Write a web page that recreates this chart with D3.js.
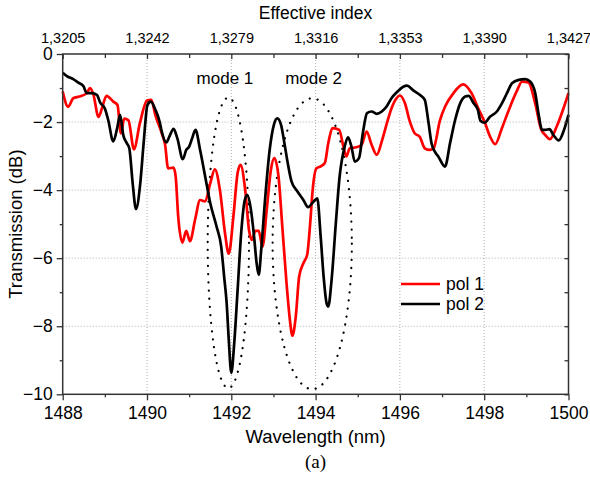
<!DOCTYPE html>
<html lang="en">
<head>
    <meta charset="UTF-8">
    <title>Transmission</title>
    <script src="https://cdn.jsdelivr.net/npm/d3@7.8.5/dist/d3.min.js"></script>
    <style>
        body { margin: 0; background: #fff; }
        text { font-family: Arial, "Liberation Sans", sans-serif; fill: #000; }
    </style>
</head>
<body>
<div id="chart"></div>
<script type="text/javascript">
    // pol 1 (red)
    const pol1Wl = [1488.0, 1488.13, 1488.25, 1488.4, 1488.57, 1488.65, 1488.73, 1488.85, 1488.93, 1489.04,
        1489.2, 1489.3, 1489.38, 1489.46, 1489.56, 1489.69, 1489.83, 1490.0, 1490.1, 1490.2,
        1490.35, 1490.43, 1490.5, 1490.63, 1490.68, 1490.74, 1490.84, 1490.93, 1491.02, 1491.14,
        1491.26, 1491.38, 1491.5, 1491.61, 1491.73, 1491.85, 1491.94, 1492.05, 1492.15, 1492.22,
        1492.33, 1492.42, 1492.49, 1492.57, 1492.65, 1492.74, 1492.84, 1492.94, 1493.02, 1493.12,
        1493.21, 1493.31, 1493.39, 1493.45, 1493.53, 1493.61, 1493.71, 1493.8, 1493.87, 1493.93,
        1494.02, 1494.14, 1494.22, 1494.3, 1494.41, 1494.56, 1494.65, 1494.73, 1494.81, 1494.97,
        1495.09, 1495.21, 1495.33, 1495.45, 1495.57, 1495.68, 1495.8, 1495.92, 1496.0, 1496.12,
        1496.23, 1496.35, 1496.47, 1496.59, 1496.71, 1496.8, 1496.95, 1497.07, 1497.27, 1497.5,
        1497.7, 1497.86, 1498.02, 1498.14, 1498.26, 1498.42, 1498.57, 1498.77, 1498.9, 1499.05,
        1499.21, 1499.35, 1499.45, 1499.56, 1499.72, 1499.88, 1500.0];
    const pol1Db = [-1.1, -1.55, -1.3, -1.25, -1.15, -1.0, -1.2, -1.85, -1.6, -1.23,
        -1.4, -1.5, -2.33, -1.9, -1.95, -2.8, -2.04, -1.37, -1.35, -1.8,
        -2.33, -2.67, -3.36, -3.34, -3.6, -4.77, -5.54, -5.2, -5.5, -4.87,
        -4.29, -4.33, -3.8, -3.39, -4.0, -5.26, -5.87, -4.77, -3.5, -3.26,
        -4.0, -5.17, -5.46, -5.2, -5.2, -5.66, -4.58, -3.4, -3.06, -3.6,
        -5.07, -6.73, -7.81, -8.28, -7.71, -6.54, -6.15, -5.9, -5.0, -4.0,
        -3.36, -3.29, -3.2, -2.62, -2.18, -2.23, -2.67, -3.01, -2.77, -2.74,
        -2.67, -2.28, -2.67, -2.96, -2.57, -2.08, -1.6, -1.3, -1.22, -1.45,
        -1.96, -2.33, -2.43, -2.77, -2.82, -2.77, -1.95, -1.55, -1.15, -0.89,
        -1.15, -1.6, -2.03, -2.43, -2.65, -2.18, -1.69, -1.1, -0.81, -0.84,
        -1.45, -2.21, -2.38, -2.5, -2.13, -1.6, -1.15];

    // pol 2 (black)
    const pol2Wl = [1488.0, 1488.1, 1488.25, 1488.37, 1488.49, 1488.57, 1488.69, 1488.81, 1488.89, 1489.0,
        1489.08, 1489.2, 1489.3, 1489.36, 1489.44, 1489.52, 1489.58, 1489.66, 1489.74, 1489.84,
        1489.92, 1490.01, 1490.09, 1490.2, 1490.3, 1490.35, 1490.46, 1490.53, 1490.63, 1490.72,
        1490.85, 1490.93, 1491.0, 1491.07, 1491.15, 1491.26, 1491.38, 1491.5, 1491.65, 1491.76,
        1491.83, 1491.89, 1491.94, 1492.0, 1492.07, 1492.15, 1492.24, 1492.32, 1492.38, 1492.46,
        1492.54, 1492.6, 1492.65, 1492.71, 1492.8, 1492.91, 1493.01, 1493.09, 1493.18, 1493.26,
        1493.34, 1493.43, 1493.57, 1493.71, 1493.82, 1493.95, 1494.04, 1494.12, 1494.19, 1494.26,
        1494.3, 1494.38, 1494.48, 1494.57, 1494.69, 1494.77, 1494.85, 1494.93, 1495.03, 1495.12,
        1495.22, 1495.33, 1495.45, 1495.57, 1495.68, 1495.8, 1495.94, 1496.08, 1496.17, 1496.31,
        1496.47, 1496.59, 1496.67, 1496.75, 1496.83, 1496.91, 1497.07, 1497.19, 1497.31, 1497.43,
        1497.55, 1497.63, 1497.75, 1497.85, 1497.91, 1498.01, 1498.14, 1498.3, 1498.42, 1498.54,
        1498.66, 1498.82, 1498.97, 1499.09, 1499.21, 1499.3, 1499.37, 1499.45, 1499.55, 1499.64,
        1499.77, 1499.88, 1500.0];
    const pol2Db = [-0.55, -0.65, -0.74, -0.84, -0.94, -1.15, -1.15, -1.2, -1.43, -1.6,
        -1.94, -2.57, -2.13, -1.79, -2.4, -2.62, -2.77, -3.8, -4.56, -3.8,
        -2.62, -1.5, -1.4, -1.64, -1.99, -2.28, -2.6, -2.43, -2.2, -2.48,
        -3.09, -2.82, -2.72, -2.48, -2.23, -2.82, -3.6, -4.38, -5.07, -5.66,
        -6.54, -7.32, -8.4, -9.37, -8.49, -6.93, -5.17, -4.29, -4.14, -4.53,
        -5.36, -6.14, -6.49, -5.75, -4.29, -2.82, -2.08, -1.89, -2.08, -2.62,
        -3.21, -3.75, -4.04, -4.29, -4.5, -4.34, -4.24, -5.36, -6.54, -7.32,
        -7.42, -6.63, -4.97, -3.6, -2.72, -2.45, -2.72, -3.16, -3.06, -2.33,
        -1.74, -1.69, -1.76, -1.69, -1.55, -1.3, -1.11, -0.96, -0.93, -1.06,
        -1.2, -1.35, -1.94, -2.62, -2.87, -3.01, -3.31, -2.62, -1.94, -1.45,
        -1.25, -1.23, -1.45, -1.64, -1.96, -2.02, -1.84, -1.69, -1.45, -1.15,
        -0.86, -0.76, -0.74, -0.81, -1.15, -1.84, -2.23, -2.23, -2.21, -2.38,
        -2.54, -2.28, -1.79];

    // axis ticks and labels
    const xMajor = [1488, 1490, 1492, 1494, 1496, 1498, 1500];
    const xMinor = [1489, 1491, 1493, 1495, 1497, 1499];
    const yMajor = [0, -2, -4, -6, -8, -10];
    const yMinor = [-1, -3, -5, -7, -9];
    const indexLabels = ["1,3205", "1,3242", "1,3279", "1,3316", "1,3353", "1,3390", "1,3427"];

    // dotted mode ellipses: centre wavelength, half width (nm), top and bottom (dB)
    const modeNames = ["mode 1", "mode 2"];
    const modeCentre = [1491.93, 1493.92];
    const modeHalfWidth = [0.49, 0.94];
    const modeTop = [-1.28, -1.3];
    const modeBottom = [-9.82, -9.85];

    const width = 590, height = 478;
    const margin = {top: 54, right: 21.5, bottom: 83.7, left: 62.7};
    const plotW = width - margin.left - margin.right;
    const plotH = height - margin.top - margin.bottom;

    const x = d3.scaleLinear().domain([1488, 1500]).range([0, plotW]);
    const y = d3.scaleLinear().domain([-10, 0]).range([plotH, 0]);

    const svg = d3.select('#chart').append('svg')
        .attr('width', width).attr('height', height);
    const g = svg.append('g').attr('transform', `translate(${margin.left},${margin.top})`);

    // grid
    g.append('g').selectAll('line').data(xMajor.slice(1, -1)).join('line')
        .attr('x1', d => x(d)).attr('x2', d => x(d)).attr('y1', 0).attr('y2', plotH)
        .attr('stroke', '#b0b0b0').attr('stroke-width', 1).attr('stroke-dasharray', '1,2');
    g.append('g').selectAll('line').data(yMajor.slice(1, -1)).join('line')
        .attr('y1', d => y(d)).attr('y2', d => y(d)).attr('x1', 0).attr('x2', plotW)
        .attr('stroke', '#b0b0b0').attr('stroke-width', 1).attr('stroke-dasharray', '1,2');

    // ellipses
    const ell = modeNames.map((m, i) => ({
        cx: x(modeCentre[i]),
        cy: (y(modeTop[i]) + y(modeBottom[i])) / 2,
        rx: x(modeCentre[i] + modeHalfWidth[i]) - x(modeCentre[i]),
        ry: (y(modeBottom[i]) - y(modeTop[i])) / 2
    }));
    g.append('g').selectAll('ellipse').data(ell).join('ellipse')
        .attr('cx', d => d.cx).attr('cy', d => d.cy).attr('rx', d => d.rx).attr('ry', d => d.ry)
        .attr('fill', 'none').attr('stroke', '#000').attr('stroke-width', 2.2)
        .attr('stroke-linecap', 'round').attr('stroke-dasharray', '0.1,8');

    // curves
    const line = d3.line().x(d => x(d[0])).y(d => y(d[1])).curve(d3.curveMonotoneX);
    const series = [
        {data: d3.zip(pol1Wl, pol1Db), color: '#ff0000'},
        {data: d3.zip(pol2Wl, pol2Db), color: '#000000'}
    ];
    g.append('g').selectAll('path').data(series).join('path')
        .attr('d', d => line(d.data)).attr('fill', 'none')
        .attr('stroke', d => d.color).attr('stroke-width', 2.7).attr('stroke-linejoin', 'round');

    // axes
    const axisStyle = sel => {
        sel.select('.domain').remove();
        sel.selectAll('line').attr('stroke', '#333').attr('stroke-width', 1.3);
        sel.selectAll('text').style('font-family', 'Arial, "Liberation Sans", sans-serif');
    };
    const bottomMinor = g.append('g').attr('transform', `translate(0,${plotH})`)
        .call(d3.axisBottom(x).tickValues(xMinor).tickSize(3).tickFormat(''));
    axisStyle(bottomMinor);
    const bottomAxis = g.append('g').attr('transform', `translate(0,${plotH})`)
        .call(d3.axisBottom(x).tickValues(xMajor).tickSize(6).tickPadding(6).tickFormat(d3.format('d')));
    axisStyle(bottomAxis);
    bottomAxis.selectAll('text').attr('font-size', 17.5);

    const topAxis = g.append('g')
        .call(d3.axisTop(x).tickValues(xMajor).tickSize(-5).tickPadding(11)
            .tickFormat((d, i) => indexLabels[i]));
    axisStyle(topAxis);
    topAxis.selectAll('text').attr('font-size', 14.5);
    const topMinor = g.append('g').call(d3.axisTop(x).tickValues(xMinor).tickSize(-4).tickFormat(''));
    axisStyle(topMinor);

    const leftAxis = g.append('g')
        .call(d3.axisLeft(y).tickValues(yMajor).tickSize(6).tickPadding(4).tickFormat(d3.format('d')));
    axisStyle(leftAxis);
    leftAxis.selectAll('text').attr('font-size', 17.5);
    const leftMinor = g.append('g').call(d3.axisLeft(y).tickValues(yMinor).tickSize(3).tickFormat(''));
    axisStyle(leftMinor);

    const rightAxis = g.append('g').attr('transform', `translate(${plotW},0)`)
        .call(d3.axisRight(y).tickValues(yMajor.concat(yMinor)).tickSize(-4).tickFormat(''));
    axisStyle(rightAxis);

    // frame
    g.append('rect').attr('width', plotW).attr('height', plotH)
        .attr('fill', 'none').attr('stroke', '#333').attr('stroke-width', 1.5);

    // titles
    svg.append('text').attr('x', margin.left + plotW / 2).attr('y', 443)
        .attr('text-anchor', 'middle').attr('font-size', 18.5).text('Wavelength (nm)');
    svg.append('text').attr('x', margin.left + plotW / 2).attr('y', 19)
        .attr('text-anchor', 'middle').attr('font-size', 17.5).text('Effective index');
    svg.append('text').attr('transform', `translate(22,${margin.top + plotH / 2}) rotate(-90)`)
        .attr('text-anchor', 'middle').attr('font-size', 18.5).text('Transmission (dB)');
    svg.append('text').attr('x', margin.left + plotW / 2).attr('y', 468)
        .attr('text-anchor', 'middle').attr('font-size', 19)
        .style('font-family', '"Liberation Serif", "Times New Roman", serif').text('(a)');

    // mode labels
    g.selectAll('.mode').data(modeNames).join('text').attr('class', 'mode')
        .attr('x', (d, i) => x([1491.85, 1493.95][i])).attr('y', 30)
        .attr('text-anchor', 'middle').attr('font-size', 17).text(d => d);

    // legend
    const legendNames = ["pol 1", "pol 2"];
    const lg = g.append('g').attr('transform', `translate(${401 - margin.left},${284 - margin.top})`);
    lg.selectAll('line').data(series).join('line')
        .attr('x1', 0).attr('x2', 39).attr('y1', (d, i) => i * 20).attr('y2', (d, i) => i * 20)
        .attr('stroke', d => d.color).attr('stroke-width', 2.7);
    lg.selectAll('text').data(legendNames).join('text')
        .attr('x', 45).attr('y', (d, i) => i * 20 + 6).attr('font-size', 17.5).text(d => d);
</script>
</body>
</html>
